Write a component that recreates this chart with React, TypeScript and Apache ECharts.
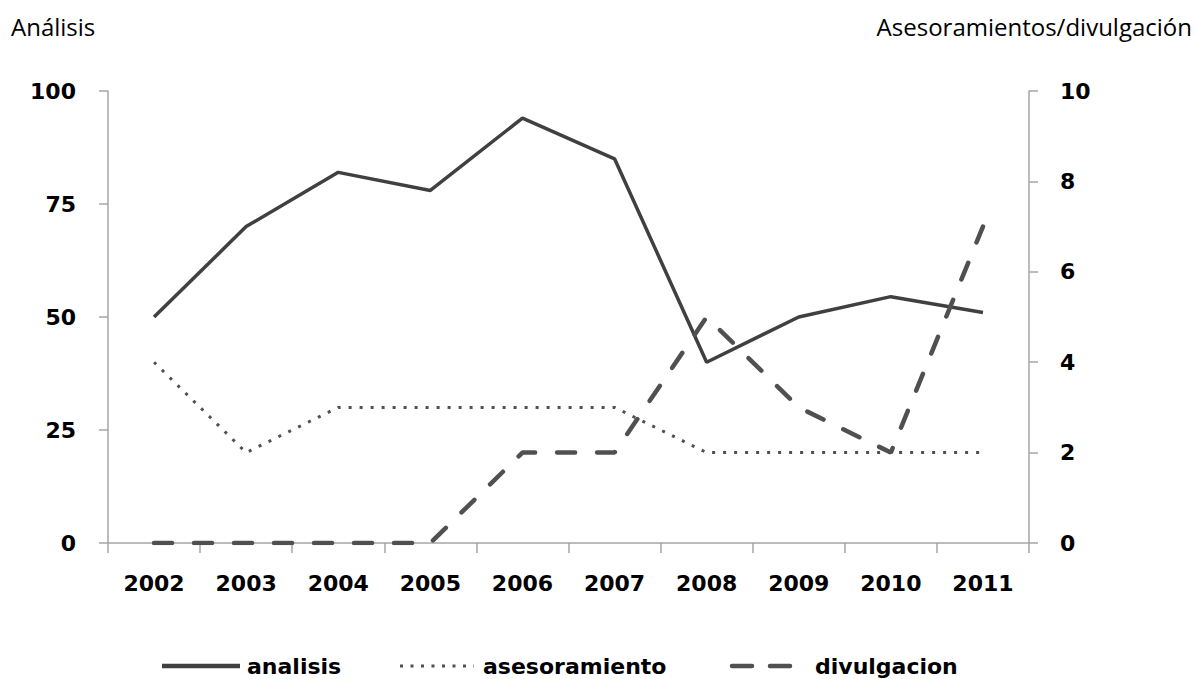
import React, { useEffect, useRef } from "react";
import * as echarts from "echarts";

const years = ["2002", "2003", "2004", "2005", "2006", "2007", "2008", "2009", "2010", "2011"];
const analisis = [50, 70, 82, 78, 94, 85, 40, 50, 54.5, 51];
const asesoramiento = [4, 2, 3, 3, 3, 3, 2, 2, 2, 2];
const divulgacion = [0, 0, 0, 0, 2, 2, 5, 3, 2, 7];

const seriesNames = ["analisis", "asesoramiento", "divulgacion"];
const leftTitle = "Análisis";
const rightTitle = "Asesoramientos/divulgación";

export default function App() {
  const ref = useRef<HTMLDivElement>(null);
  useEffect(() => {
    if (!ref.current) return;
    const chart = echarts.init(ref.current, undefined, { renderer: "svg" });
    const lineColor = "#404040";
    const axisColor = "#a6a6a6";
    const labelFont = {
      color: "#000",
      fontFamily: "DejaVu Sans",
      fontWeight: "bold" as const,
      fontSize: 22,
    };
    const solidStyle = { stroke: lineColor, lineWidth: 3.5 };
    const dotStyle = { stroke: "#505050", lineWidth: 3, lineDash: [3, 7.5] };
    const dashStyle = { stroke: "#505050", lineWidth: 4.5, lineDash: [18, 22], lineCap: "round" };
    const ly = 666;
    const legendText = (x: number, t: string) => ({
      type: "text",
      x,
      y: ly,
      style: {
        text: t,
        fontFamily: "DejaVu Sans",
        fontWeight: "bold",
        fontSize: 22,
        fill: "#000",
        textVerticalAlign: "middle",
        verticalAlign: "middle",
      },
    });
    chart.setOption({
      animation: false,
      backgroundColor: "#fff",
      grid: { left: 108, right: 169, top: 91, bottom: 136 },
      graphic: [
        {
          type: "text",
          left: 11,
          top: 14,
          style: { text: leftTitle, fontFamily: "Open Sans", fontSize: 24, fill: "#000" },
        },
        {
          type: "text",
          right: 6,
          top: 14,
          style: { text: rightTitle, fontFamily: "Open Sans", fontSize: 24, fill: "#000" },
        },
        { type: "line", shape: { x1: 162, y1: ly, x2: 240, y2: ly }, style: { ...solidStyle, lineWidth: 4.5 } },
        legendText(247, seriesNames[0]),
        { type: "line", shape: { x1: 400, y1: ly, x2: 474, y2: ly }, style: dotStyle },
        legendText(483, seriesNames[1]),
        { type: "line", shape: { x1: 732, y1: ly, x2: 793, y2: ly }, style: { ...dashStyle, lineDash: [20, 18] } },
        legendText(815, seriesNames[2]),
      ],
      xAxis: {
        type: "category",
        data: years,
        boundaryGap: true,
        axisLine: { lineStyle: { color: axisColor, width: 1.5 } },
        axisTick: { show: true, alignWithLabel: false, length: 10, lineStyle: { color: axisColor, width: 1.5 } },
        axisLabel: { ...labelFont, margin: 29, interval: 0 },
        splitLine: { show: false },
      },
      yAxis: [
        {
          type: "value",
          min: 0,
          max: 100,
          interval: 25,
          position: "left",
          axisLine: { show: true, lineStyle: { color: axisColor, width: 1.5 } },
          axisTick: { show: true, length: 9, lineStyle: { color: axisColor, width: 1.5 } },
          axisLabel: { ...labelFont, margin: 32 },
          splitLine: { show: false },
        },
        {
          type: "value",
          min: 0,
          max: 10,
          interval: 2,
          position: "right",
          axisLine: { show: true, lineStyle: { color: axisColor, width: 1.5 } },
          axisTick: { show: true, length: 9, lineStyle: { color: axisColor, width: 1.5 } },
          axisLabel: { ...labelFont, margin: 31 },
          splitLine: { show: false },
        },
      ],
      series: [
        {
          name: seriesNames[0],
          type: "line",
          yAxisIndex: 0,
          data: analisis,
          symbol: "none",
          color: lineColor,
          lineStyle: { color: lineColor, width: 3.5 },
        },
        {
          name: seriesNames[1],
          type: "line",
          yAxisIndex: 1,
          data: asesoramiento,
          symbol: "none",
          color: lineColor,
          lineStyle: { color: "#505050", width: 3, type: [3, 8] },
        },
        {
          name: seriesNames[2],
          type: "line",
          yAxisIndex: 1,
          data: divulgacion,
          symbol: "none",
          color: lineColor,
          lineStyle: { color: "#505050", width: 4.5, type: [18, 22], cap: "round" },
        },
      ],
    });
    return () => chart.dispose();
  }, []);
  return (
    <div
      ref={ref}
      style={{ position: "fixed", left: 0, top: 0, width: 1198, height: 679, background: "#fff" }}
    />
  );
}
